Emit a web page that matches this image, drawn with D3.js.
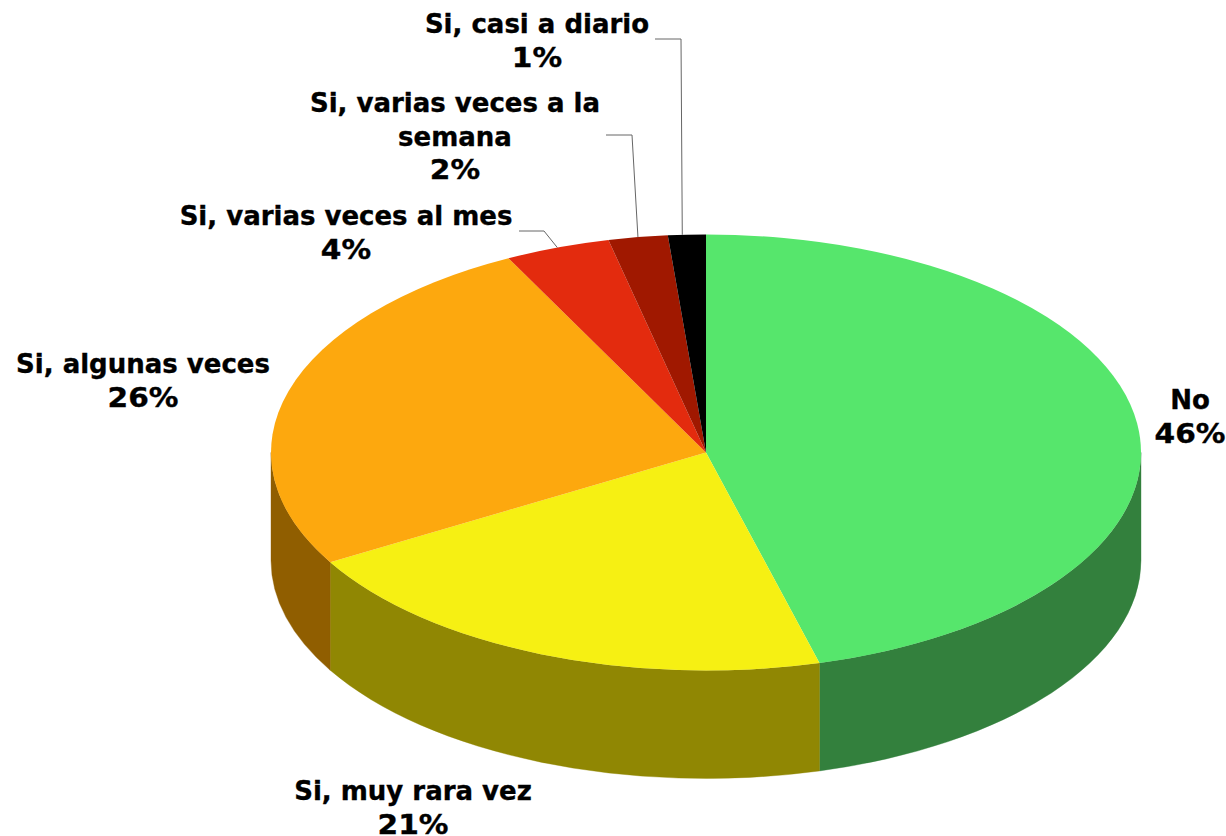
<!DOCTYPE html>
<html>
<head>
<meta charset="utf-8">
<script src="https://cdn.jsdelivr.net/npm/d3@7"></script>
<style>
  html, body { margin: 0; background: #fff; }
  svg { display: block; }
  text { font-family: "DejaVu Sans", sans-serif; font-weight: bold; font-size: 26px; fill: #000; stroke: #000; stroke-width: 0.35px; }
</style>
</head>
<body>
<svg width="1226" height="836"></svg>
<script>
// values (slice angles, labels are the rounded ones)
const categories = ['No', 'Si, muy rara vez', 'Si, algunas veces', 'Si, varias veces al mes', 'Si, varias veces a la semana', 'Si, casi a diario'];
const values = [45.8, 20.8, 25.9, 3.9, 2.2, 1.4];
const percentLabels = ['46%', '21%', '26%', '4%', '2%', '1%'];
const topColors = ['#56e66c', '#f6f013', '#fda80e', '#e32b0e', '#a01800', '#000000'];
const sideColors = ['#33803d', '#908703', '#905e00', '#8a1a08', '#601000', '#000000'];

const svg = d3.select('svg');

const cx = 706, cy = 452.5;
const radius = 435;
const squash = 218 / 435;
const depth = 108 / squash; // in unsquashed units

const pie = d3.pie().sort(null).value(d => d.value);
const slices = pie(categories.map((c, i) => ({ name: c, value: values[i], i })));

const arc = d3.arc().innerRadius(0).outerRadius(radius);

const g = svg.append('g')
  .attr('transform', `translate(${cx},${cy}) scale(1,${squash})`);

// front wall, only the part of each slice facing the viewer
const wall = d => {
  const a0 = Math.max(d.startAngle, Math.PI / 2) - Math.PI / 2;
  const a1 = Math.min(d.endAngle, Math.PI * 3 / 2) - Math.PI / 2;
  if (a1 <= a0) return null;
  const p = d3.path();
  p.arc(0, 0, radius, a0, a1);
  p.arc(0, depth, radius, a1, a0, true);
  p.closePath();
  return p.toString();
};

g.selectAll('path.wall').data(slices)
  .enter().append('path')
  .attr('class', 'wall')
  .attr('d', wall)
  .attr('fill', d => sideColors[d.data.i])
  .attr('stroke', d => sideColors[d.data.i])
  .attr('stroke-width', 0.5);

g.selectAll('path.top').data(slices)
  .enter().append('path')
  .attr('class', 'top')
  .attr('d', arc)
  .attr('fill', d => topColors[d.data.i]);

// label layout: centre x, first baseline y, wrapped lines
const labelLayout = [
  { x: 1190, y: 409, lines: ['No'] },
  { x: 413, y: 800, lines: ['Si, muy rara vez'] },
  { x: 143, y: 373, lines: ['Si, algunas veces'] },
  { x: 346, y: 225, lines: ['Si, varias veces al mes'] },
  { x: 455, y: 112, lines: ['Si, varias veces a la', 'semana'] },
  { x: 537, y: 33, lines: ['Si, casi a diario'] }
];
const lineStep = 33.5;
const percentStretch = 1.14; // the original face has a wider % sign

const labels = svg.append('g');
slices.forEach(d => {
  const l = labelLayout[d.data.i];
  const t = labels.append('text')
    .attr('text-anchor', 'middle');
  l.lines.forEach((s, k) => {
    t.append('tspan')
      .attr('x', l.x)
      .attr('y', l.y + k * lineStep)
      .text(s);
  });
  labels.append('text')
    .attr('text-anchor', 'middle')
    .attr('transform', `translate(${l.x},${l.y + l.lines.length * lineStep}) scale(${percentStretch},1)`)
    .text(percentLabels[d.data.i]);
});

// leader lines for the three small slices, ending on the rim of the slice
const leaders = [
  { i: 3, at: 0.5, start: [519, 231], bend: [544, 231] },
  { i: 4, at: 0.5, start: [606, 135], bend: [632, 135] },
  { i: 5, at: 0.38, start: [655, 39], bend: [681, 39] }
];
const rim = (d, at) => {
  const a = d.startAngle + (d.endAngle - d.startAngle) * at;
  return [cx + radius * Math.sin(a), cy - radius * squash * Math.cos(a)];
};
const line = d3.line();
svg.selectAll('path.leader').data(leaders)
  .enter().append('path')
  .attr('class', 'leader')
  .attr('fill', 'none')
  .attr('stroke', '#666')
  .attr('stroke-width', 1)
  .attr('d', d => line([d.start, d.bend, rim(slices[d.i], d.at)]));
</script>
</body>
</html>
